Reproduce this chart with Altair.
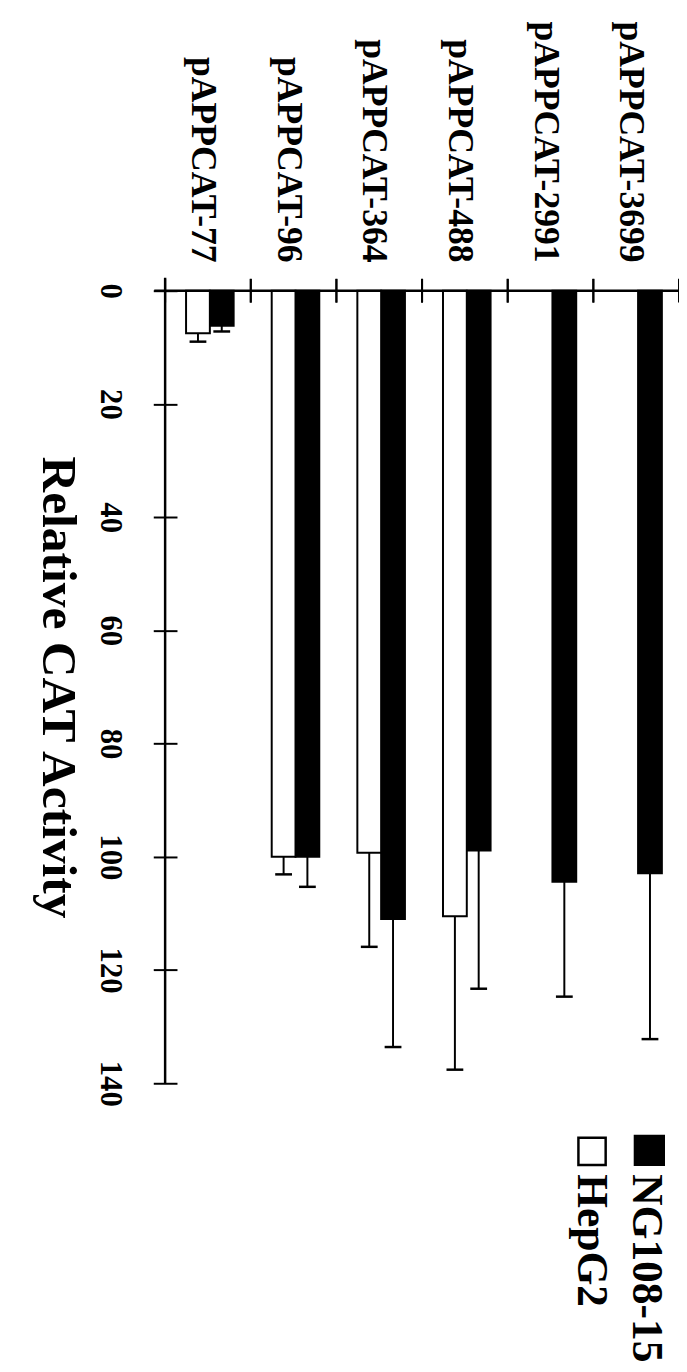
import altair as alt
import pandas as pd

categories = ["pAPPCAT-77", "pAPPCAT-96", "pAPPCAT-364", "pAPPCAT-488", "pAPPCAT-2991", "pAPPCAT-3699"]
series = ["NG108-15", "HepG2"]
ng_values = [6.2, 100.0, 111.0, 98.9, 104.4, 102.9]
ng_errors = [1.0, 5.3, 22.6, 24.4, 20.3, 29.3]
hep_values = [7.5, 100.0, 99.3, 110.5, None, None]
hep_errors = [1.5, 3.1, 16.6, 27.1, None, None]
y_ticks = [0, 20, 40, 60, 80, 100, 120, 140]

rows = []
for c, v, e in zip(categories, ng_values, ng_errors):
    rows.append({"category": c, "series": series[0], "value": v, "hi": v + e})
for c, v, e in zip(categories, hep_values, hep_errors):
    if v is not None:
        rows.append({"category": c, "series": series[1], "value": v, "hi": v + e})
df = pd.DataFrame(rows)
cat_df = pd.DataFrame({"category": categories})

W, H = 520, 802
FONT = "Liberation Serif"
offset_order = [series[1], series[0]]

x_axis = alt.Axis(orient="top", title=None, domain=False, grid=False, ticks=False,
                  labelAngle=90, labelAlign="right",
                  labelBaseline="middle", labelPadding=29, labelOffset=-5,
                  labelFont=FONT, labelFontWeight="bold", labelFontSize=36,
                  labelColor="black", labelLimit=500)
y_axis = alt.Axis(values=y_ticks, title="Relative CAT Activity", domain=False,
                  grid=False, ticks=True, offset=-12, tickSize=24, tickWidth=2,
                  tickColor="black", labelAngle=90, labelAlign="center",
                  labelBaseline="top", labelPadding=29, labelFont=FONT,
                  labelFontWeight="bold", labelFontSize=31, labelColor="black",
                  titleAngle=90, titleFont=FONT, titleFontWeight="bold",
                  titleFontSize=50, titleColor="black", titleAlign="center",
                  titleBaseline="alphabetic", titleX=-136, titleY=H / 2)
x_scale = alt.Scale(paddingInner=0, paddingOuter=0)
y_scale = alt.Scale(domain=[0, 140], reverse=True, nice=False)

x_enc = alt.X("category:N", sort=categories, scale=x_scale, axis=x_axis)
xoff = alt.XOffset("series:N", scale=alt.Scale(domain=offset_order, paddingInner=0,
                                                 paddingOuter=0.8, align=0.55))

base = alt.Chart(df)

bars = base.mark_bar(stroke="black", strokeWidth=2).encode(
    x=x_enc, xOffset=xoff,
    y=alt.Y("value:Q", scale=y_scale, axis=y_axis),
    fill=alt.Fill("series:N", scale=alt.Scale(domain=series, range=["black", "white"]), legend=None),
)

err_rule = base.mark_rule(color="black", strokeWidth=2).encode(
    x=x_enc, xOffset=xoff,
    y=alt.Y("value:Q", scale=y_scale, axis=y_axis), y2="hi:Q",
)
err_cap = base.mark_tick(color="black", thickness=2.5, size=17, opacity=1).encode(
    x=x_enc, xOffset=xoff,
    y=alt.Y("hi:Q", scale=y_scale, axis=y_axis),
)

# category separator ticks crossing the top axis line
sep_start = alt.Chart(cat_df).mark_rule(color="black", strokeWidth=2).encode(
    x=alt.X("category:N", sort=categories, scale=x_scale, axis=x_axis, bandPosition=0),
    y=alt.value(-12), y2=alt.value(12))
sep_end = alt.Chart(cat_df).mark_rule(color="black", strokeWidth=2).encode(
    x=alt.X("category:N", sort=categories, scale=x_scale, axis=x_axis, bandPosition=1),
    y=alt.value(-12), y2=alt.value(12))

one = pd.DataFrame({"k": [0]})
x_domain = alt.Chart(one).mark_rule(color="black", strokeWidth=2.5).encode(
    x=alt.value(-11), x2=alt.value(W), y=alt.value(0))
y_domain = alt.Chart(one).mark_rule(color="black", strokeWidth=2.5).encode(
    x=alt.value(0), y=alt.value(-13), y2=alt.value(H))

leg_ng_sq = alt.Chart(one).mark_square(size=880, fill="black", stroke="black",
                                        strokeWidth=2, opacity=1).encode(
    x=alt.value(490), y=alt.value(870))
leg_hep_sq = alt.Chart(one).mark_square(size=760, fill="white", stroke="black",
                                         strokeWidth=2.5, opacity=1).encode(
    x=alt.value(432), y=alt.value(871))
leg_ng_txt = alt.Chart(pd.DataFrame({"label": [series[0]]})).mark_text(
    angle=90, align="left", baseline="alphabetic", font=FONT, fontWeight="bold",
    fontSize=44, color="black").encode(
    x=alt.value(473), y=alt.value(894), text="label:N")
leg_hep_txt = alt.Chart(pd.DataFrame({"label": [series[1]]})).mark_text(
    angle=90, align="left", baseline="alphabetic", font=FONT, fontWeight="bold",
    fontSize=44, color="black").encode(
    x=alt.value(418), y=alt.value(894), text="label:N")

chart = alt.layer(
    bars, err_rule, err_cap, sep_start, sep_end, x_domain, y_domain,
    leg_ng_sq, leg_hep_sq, leg_ng_txt, leg_hep_txt,
).properties(
    width=W, height=H,
    padding={"left": 159, "top": 278, "right": 0, "bottom": 276},
    autosize=alt.AutoSizeParams(type="none"),
    background="white",
).configure_view(stroke=None)

chart.save("out.html", embed_options={"renderer": "svg", "actions": False})
